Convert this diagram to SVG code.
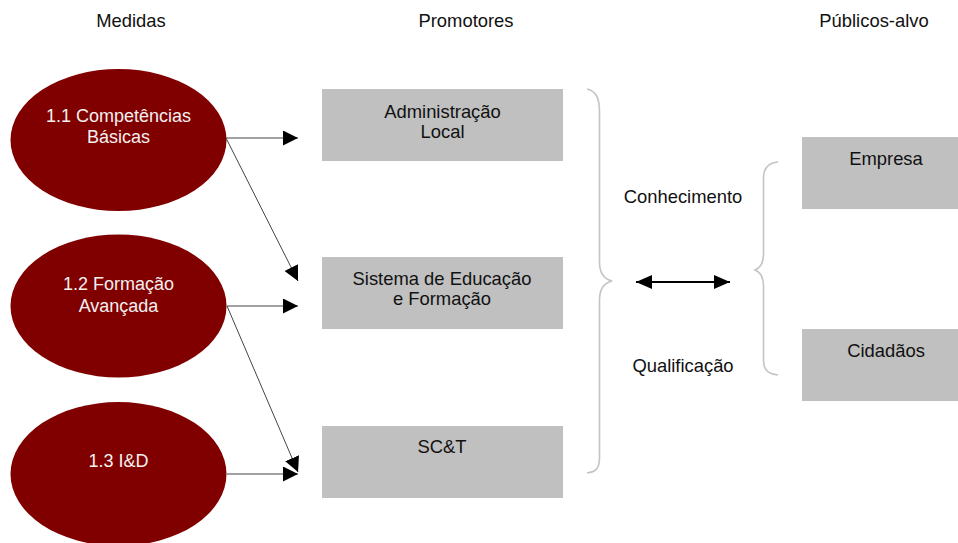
<svg xmlns="http://www.w3.org/2000/svg" width="958" height="543" viewBox="0 0 958 543">
<style>
text{font-family:"Liberation Sans",Arial,sans-serif;font-size:18.4px;fill:#111;text-anchor:middle}
.ell{fill:#800000}
.et{fill:#f4f0f0;font-size:18px}
.box{fill:#c0c0c0}
.con{stroke:#444;stroke-width:1;fill:none}
.brace{stroke:#c4c4c4;stroke-width:1.6;fill:none}
</style>
<defs>
<marker id="ah" markerUnits="userSpaceOnUse" markerWidth="16" markerHeight="16" refX="15" refY="7.5" orient="auto" viewBox="0 0 16 16">
<path d="M0,0 L15,7.5 L0,15 Z" fill="#000"/>
</marker>
<marker id="dh" markerUnits="userSpaceOnUse" markerWidth="17" markerHeight="15" refX="16" refY="7" orient="auto-start-reverse" viewBox="0 0 17 15">
<path d="M0,0 L16,7 L0,14 Z" fill="#000"/>
</marker>
</defs>
<g id="headers">
<text x="131" y="27">Medidas</text>
<text x="466" y="27">Promotores</text>
<text x="874" y="27">Públicos-alvo</text>
</g>
<g id="m11"><ellipse class="ell" cx="118.5" cy="140" rx="108" ry="71"/><text class="et" x="118.5" y="122">1.1 Competências</text><text class="et" x="118.5" y="143">Básicas</text></g>
<g id="m12"><ellipse class="ell" cx="118.5" cy="306" rx="108" ry="71.5"/><text class="et" x="118.5" y="290">1.2 Formação</text><text class="et" x="118.5" y="311.5">Avançada</text></g>
<g id="m13"><ellipse class="ell" cx="118.5" cy="474" rx="108" ry="72"/><text class="et" x="118.5" y="467">1.3 I&amp;D</text></g>
<g id="p1"><rect class="box" x="322" y="89" width="241" height="72"/><text x="442.5" y="118">Administração</text><text x="442.5" y="137.5">Local</text></g>
<g id="p2"><rect class="box" x="322" y="257" width="241" height="72"/><text x="442" y="285">Sistema de Educação</text><text x="442" y="305">e Formação</text></g>
<g id="p3"><rect class="box" x="322" y="426" width="241" height="72"/><text x="442" y="453">SC&amp;T</text></g>
<g id="t1"><rect class="box" x="802" y="137" width="156" height="72"/><text x="886" y="164.5">Empresa</text></g>
<g id="t2"><rect class="box" x="802" y="329" width="156" height="72"/><text x="886" y="356.5">Cidadãos</text></g>
<g id="labels">
<text x="683" y="203">Conhecimento</text>
<text x="683" y="371.5">Qualificação</text>
</g>
<g id="connectors">
<line class="con" x1="226" y1="138" x2="298" y2="138" marker-end="url(#ah)"/>
<line class="con" x1="226" y1="138" x2="298" y2="281" marker-end="url(#ah)"/>
<line class="con" x1="227" y1="306" x2="298" y2="306" marker-end="url(#ah)"/>
<line class="con" x1="227" y1="306" x2="298" y2="472" marker-end="url(#ah)"/>
<line class="con" x1="227" y1="474" x2="298" y2="474" marker-end="url(#ah)"/>
<line x1="636" y1="282" x2="730" y2="282" stroke="#000" stroke-width="2" marker-start="url(#dh)" marker-end="url(#dh)"/>
<path class="brace" d="M587,89 C596,91 599.5,98 599.5,112 L599.5,262 C599.5,273 604,279 612,281 C604,283 599.5,289 599.5,300 L599.5,458 C599.5,468 596,472 587,473"/>
<path class="brace" d="M778,162 C768,163 763.5,168 763.5,178 L763.5,254 C763.5,264 760,268 755,270 C760,272 763.5,276 763.5,286 L763.5,360 C763.5,370 768,374 778,375"/>
</g>
</svg>
